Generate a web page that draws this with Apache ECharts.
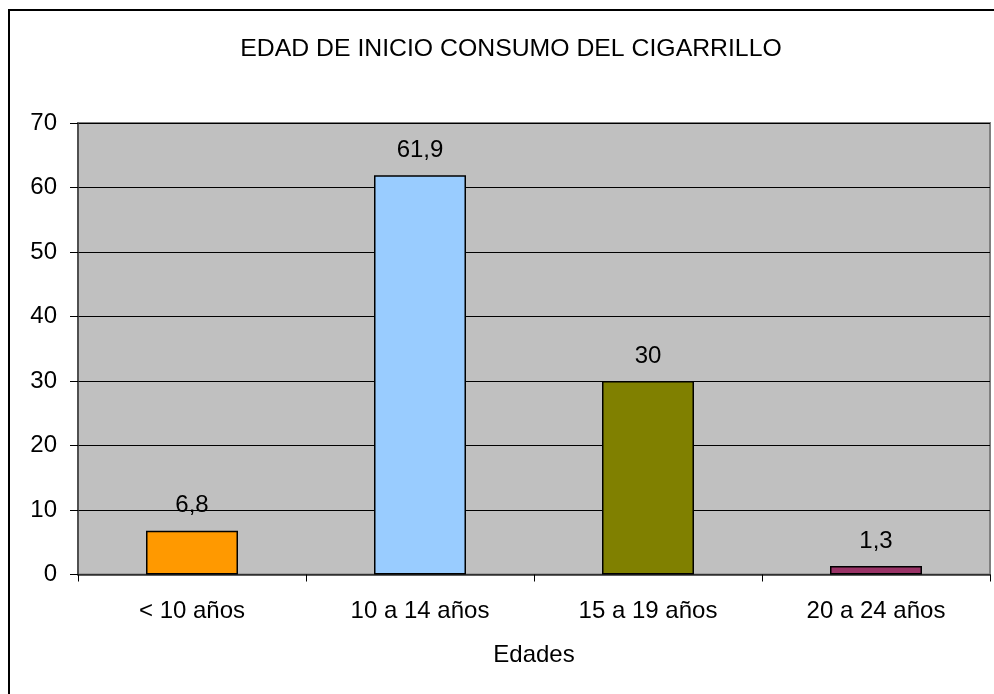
<!DOCTYPE html>
<html><head><meta charset="utf-8">
<script src="https://cdn.jsdelivr.net/npm/echarts@6/dist/echarts.min.js"></script>
<style>html,body{margin:0;padding:0;background:#fff}#c{width:994px;height:694px}</style>
</head><body><div id="c"></div>
<script>
var categories = ['< 10 años', '10 a 14 años', '15 a 19 años', '20 a 24 años'];
var values = [6.8, 61.9, 30, 1.3];
var barColors = ['#FF9900', '#99CCFF', '#808000', '#993366'];
var yTicks = { min: 0, max: 70, interval: 10 };
var titleText = 'EDAD DE INICIO CONSUMO DEL CIGARRILLO';
var xName = 'Edades';

var font = 'Liberation Sans, Arial, sans-serif';
var chart = echarts.init(document.getElementById('c'), null, { renderer: 'canvas' });
chart.setOption({
  backgroundColor: '#fff',
  animation: false,
  title: {
    text: titleText, left: 506, top: 32, textAlign: 'center',
    textStyle: { fontFamily: font, fontSize: 24.8, fontWeight: 'normal', color: '#000' }
  },
  graphic: [{
    type: 'rect', shape: { x: 9, y: 10, width: 1000, height: 700 },
    style: { fill: 'none', stroke: '#000', lineWidth: 2 }, silent: true
  }],
  grid: {
    left: 78, top: 123, width: 912, height: 451.5,
    show: true, backgroundColor: '#C0C0C0', borderColor: '#808080', borderWidth: 2
  },
  xAxis: {
    type: 'category', data: categories,
    name: xName, nameLocation: 'middle', nameGap: 69,
    nameTextStyle: { fontFamily: font, fontSize: 24, color: '#000' },
    axisLine: { show: true, lineStyle: { color: '#404040', width: 1.5 } },
    axisTick: { show: true, length: 7, alignWithLabel: false, lineStyle: { color: '#000' } },
    axisLabel: { margin: 25, fontFamily: font, fontSize: 24, color: '#000' },
    splitLine: { show: false }
  },
  yAxis: {
    type: 'value', min: yTicks.min, max: yTicks.max, interval: yTicks.interval,
    axisLine: { show: true, lineStyle: { color: '#404040', width: 1.5 } },
    axisTick: { show: true, length: 8, lineStyle: { color: '#000' } },
    axisLabel: { margin: 21, fontFamily: font, fontSize: 24, color: '#000' },
    splitLine: { show: true, lineStyle: { color: '#000', width: 1 } }
  },
  series: [{
    type: 'bar', barWidth: 92,
    data: values.map(function (v, i) {
      return { value: v, itemStyle: { color: barColors[i], borderColor: '#000', borderWidth: 1.5 } };
    }),
    label: {
      show: true, position: 'top', distance: 13,
      fontFamily: font, fontSize: 24, color: '#000',
      formatter: function (p) { return String(p.value).replace('.', ','); }
    }
  }]
});
</script></body></html>
